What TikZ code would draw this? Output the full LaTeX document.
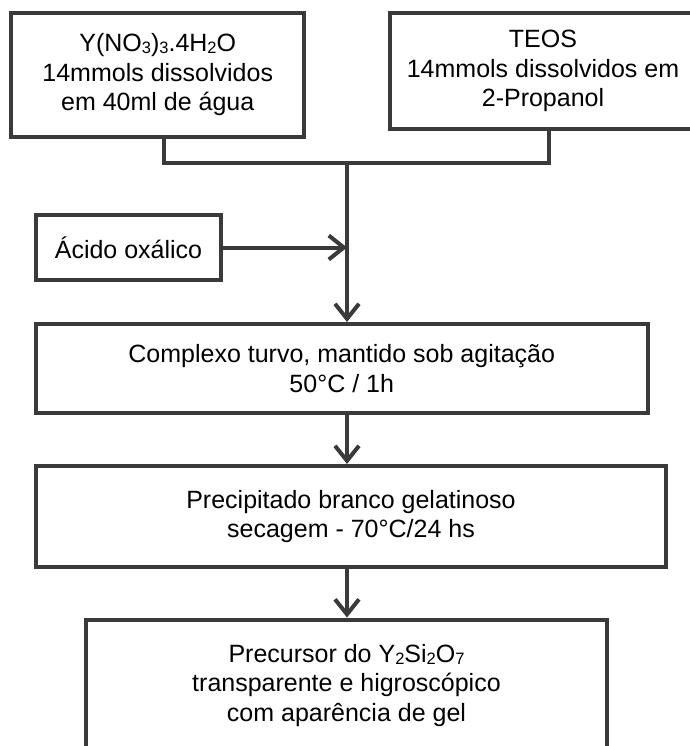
\documentclass[tikz,border=0pt]{standalone}
\usepackage{fontspec}
\setmainfont{Liberation Sans}
\usetikzlibrary{arrows.meta}
\definecolor{lc}{RGB}{58,58,58}
\newcommand\sbx[1]{\raisebox{-2bp}{\fontsize{16.5bp}{16.5bp}\selectfont #1}}
\tikzset{
  box/.style={draw=lc, line width=4bp, fill=white, inner sep=0pt, align=center,
    font=\fontsize{25bp}{29.5bp}\selectfont, text=black},
  conn/.style={draw=lc, line width=4bp, line join=miter},
  arr/.style={conn, -{Straight Barb[length=15bp,width=24bp,line width=4bp]}},
}
\begin{document}
\begin{tikzpicture}[x=1bp,y=-1bp]
\useasboundingbox (0,0) rectangle (690,746);
\fill[white] (0,0) rectangle (690,746);
\clip (0,0) rectangle (690,746);
\node[box, minimum width=292.5bp, minimum height=124bp] (b1) at (157.75,75)
  {Y(NO\sbx{3})\sbx{3}.4H\sbx{2}O\\14mmols dissolvidos\\em 40ml de água};
\node[box, minimum width=306bp, minimum height=116bp] (b2) at (543,71)
  {TEOS\\14mmols dissolvidos em\\2-Propanol};
\node[box, minimum width=184bp, minimum height=65bp] (a) at (128.5,247.5)
  {Ácido oxálico};
\node[box, minimum width=611.5bp, minimum height=89bp] (c) at (341.75,368.5)
  {Complexo turvo, mantido sob agitação\\50°C / 1h};
\node[box, minimum width=630bp, minimum height=101bp] (p) at (351,516.5)
  {Precipitado branco gelatinoso\\secagem - 70°C/24 hs};
\node[box, minimum width=521bp, minimum height=170bp, anchor=north] (f) at (346.5,617.5) {};
\node[align=center, font=\fontsize{25bp}{29.5bp}\selectfont, inner sep=0pt, anchor=north] (ft) at (346.5,644)
  {Precursor do Y\sbx{2}Si\sbx{2}O\sbx{7}\\transparente e higroscópico\\com aparência de gel};
\coordinate (j1) at (163.5,163);
\coordinate (j2) at (549,163);
\coordinate (j) at (347,163);
\draw[conn] (j1 |- b1.south) -- (j1) -- (j2) -- (j2 |- b2.south);
\draw[arr] (j) -- (j |- c.north);
\draw[arr] (a.east) -- (j |- a.east);
\draw[arr] (c.south -| j) -- (p.north -| j);
\draw[arr] (p.south -| j) -- (f.north -| j);
\end{tikzpicture}
\end{document}
